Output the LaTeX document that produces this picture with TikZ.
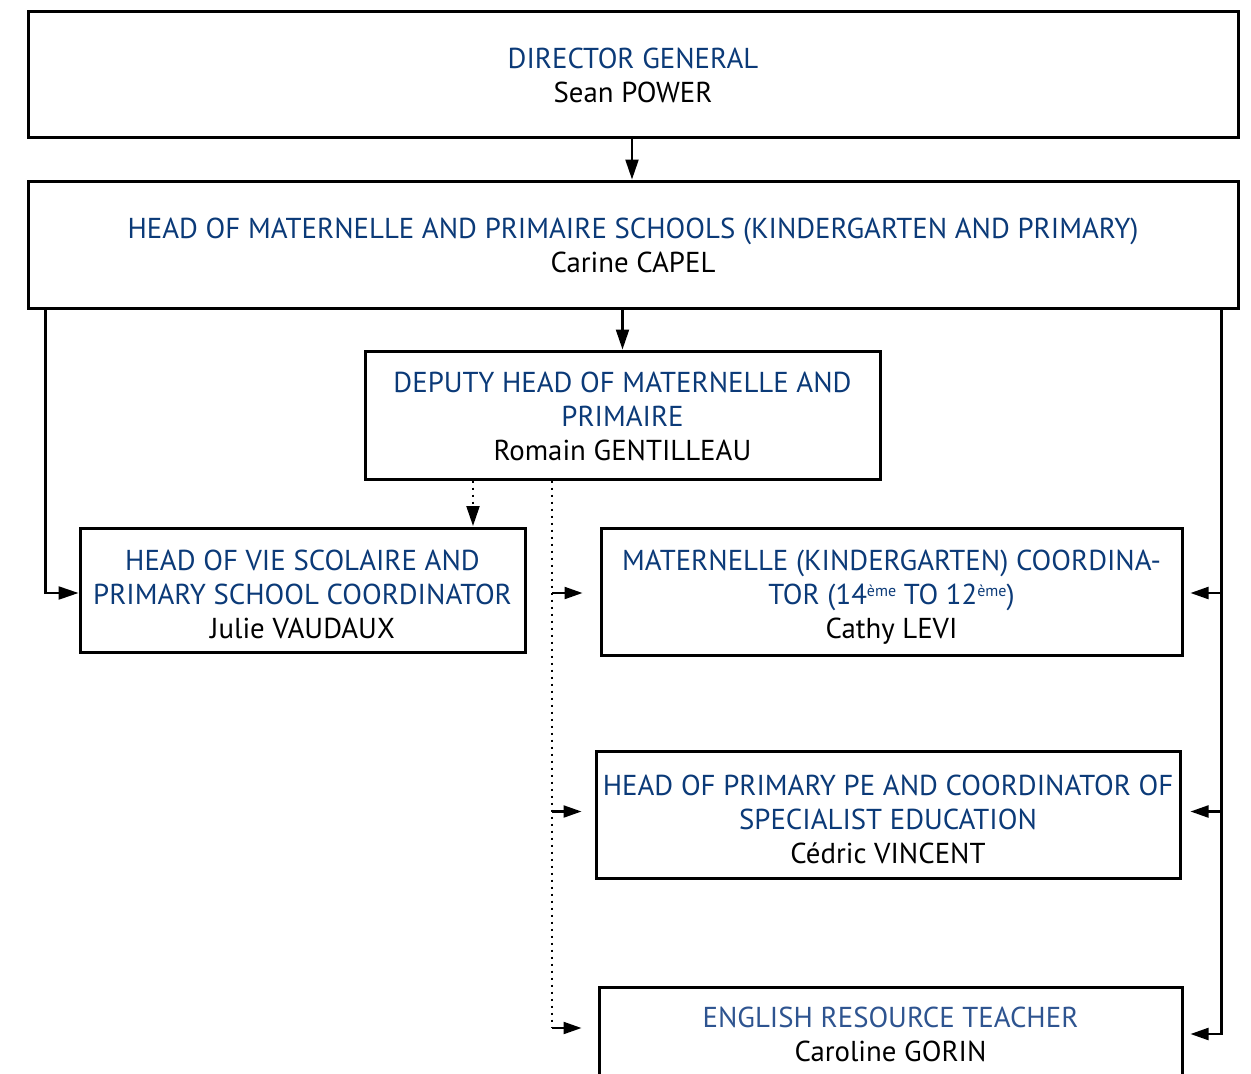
\documentclass[tikz,border=0pt]{standalone}
\usepackage{fontspec}
\setmainfont{PT Sans}
\usetikzlibrary{arrows.meta}
\definecolor{titleblue}{HTML}{0B3A78}
\definecolor{lightblue}{HTML}{2E5490}
\tikzset{
  x=1pt,y=-1pt,
  box/.style={draw,line width=3pt,inner sep=0pt},
  txt/.style={inner sep=0pt,align=center,font=\fontsize{28.8}{34}\selectfont},
  arr/.style={line width=2.2pt,-{Triangle[length=20pt,width=13pt]}},
  sarr/.style={line width=2.2pt,-{Triangle[length=18pt,width=12pt]}},
  dots/.style={line width=2.6pt,dash pattern=on 2.6pt off 4.4pt},
}
\newcommand{\ttl}[1]{\textcolor{titleblue}{#1}}
\newcommand{\supr}[1]{\raisebox{8pt}{\fontsize{16}{16}\selectfont #1}}
\begin{document}
\begin{tikzpicture}
\useasboundingbox (0,0) rectangle (1251,1074);
\clip (0,0) rectangle (1251,1074);
% boxes
\node[box,minimum width=1210,minimum height=126] (dg) at (633,74) {};
\node[box,minimum width=1210,minimum height=127] (head) at (633,244.5) {};
\node[box,minimum width=515,minimum height=128] (dep) at (622.5,415) {};
\node[box,minimum width=445,minimum height=124] (vie) at (302.5,590) {};
\node[box,minimum width=581,minimum height=127] (mat) at (891.5,591.5) {};
\node[box,minimum width=584,minimum height=127] (pe) at (888,814.5) {};
\node[box,minimum width=583,minimum height=94] (eng) at (890.5,1034) {};
% texts
\node[txt] (dgT) at ([yshift=-1pt]dg.center) {\ttl{DIRECTOR GENERAL}\\Sean POWER};
\node[txt] (headT) at ([yshift=-1pt]head.center)
  {\ttl{HEAD OF MATERNELLE AND PRIMAIRE SCHOOLS (KINDERGARTEN AND PRIMARY)}\\Carine CAPEL};
\node[txt] (depT) at ([yshift=-1pt]dep.center)
  {\ttl{DEPUTY HEAD OF MATERNELLE AND}\\\ttl{PRIMAIRE}\\Romain GENTILLEAU};
\node[txt] (vieT) at ([yshift=-4pt]vie.center)
  {\ttl{HEAD OF VIE SCOLAIRE AND}\\\ttl{PRIMARY SCHOOL COORDINATOR}\\Julie VAUDAUX};
\node[txt] (matT) at ([yshift=-6pt]mat.center)
  {\ttl{MATERNELLE (KINDERGARTEN) COORDINA-}\\\ttl{TOR (14\supr{ème} TO 12\supr{ème})}\\Cathy LEVI};
\node[txt] (peT) at ([yshift=-5pt]pe.center)
  {\ttl{HEAD OF PRIMARY PE AND COORDINATOR OF}\\\ttl{SPECIALIST EDUCATION}\\Cédric VINCENT};
\node[txt] (engT) at (eng.center)
  {\textcolor{lightblue}{ENGLISH RESOURCE TEACHER}\\Caroline GORIN};
% solid connectors
\draw[arr] (dg.south -| 632,0) -- (head.north -| 632,0);
\draw[arr] (head.south -| dep.north) -- (dep.north);
\coordinate (lt) at ([xshift=19pt]head.south west);
\coordinate (vieIn) at ([yshift=-3pt]vie.west);
\draw[arr] (lt) |- (vieIn);
\coordinate (rt) at ([xshift=-18pt]head.south east);
\coordinate (engIn) at ([xshift=7pt]eng.east);
\coordinate (matIn) at ([xshift=7pt,yshift=-1.5pt]mat.east);
\coordinate (peIn) at ([xshift=9pt,yshift=3pt]pe.east);
\draw[sarr] (rt) |- (engIn);
\draw[sarr] (rt |- matIn) -- (matIn);
\draw[sarr] (rt |- peIn) -- (peIn);
% dotted connectors
\coordinate (dv) at (552,0);
\coordinate (dvEnd) at (552,1028);
\draw[dots] (dep.south -| dv) -- (dvEnd);
\coordinate (vieTop) at (473,526);
\draw[dots] (dep.south -| vieTop) -- ([yshift=18pt]vieTop);
\draw[arr] ([yshift=20pt]vieTop) -- (vieTop);
\coordinate (matL) at ([xshift=-17pt,yshift=-1.5pt]mat.west);
\coordinate (peL) at ([xshift=-13pt,yshift=3pt]pe.west);
\coordinate (engL) at ([xshift=-16pt,yshift=6pt]eng.west);
\draw[sarr] (dv |- matL) -- (matL);
\draw[sarr] (dv |- peL) -- (peL);
\draw[sarr] (dvEnd) -- (engL);
\end{tikzpicture}
\end{document}
